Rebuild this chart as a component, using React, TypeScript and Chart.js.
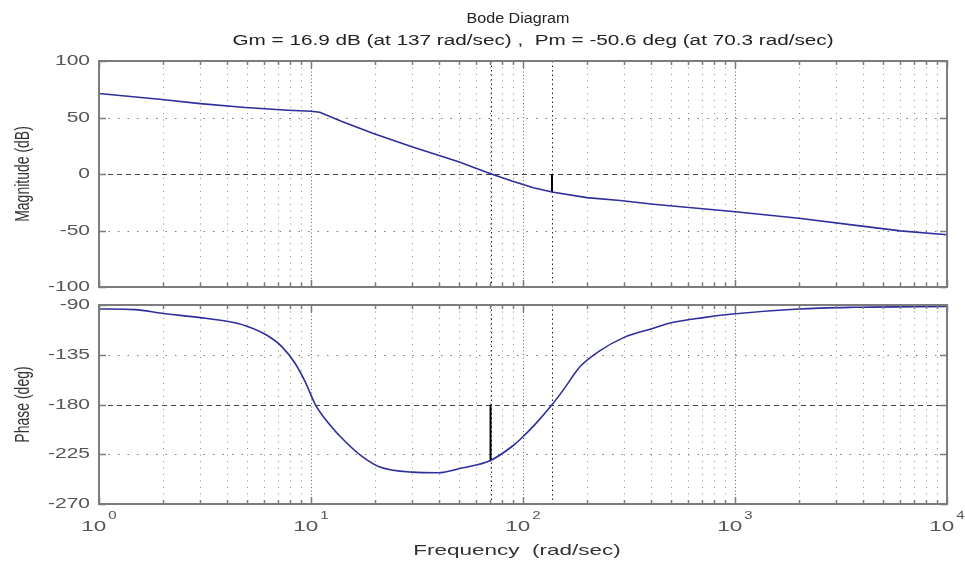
import React, { useEffect, useRef } from "react";
import { Chart, registerables } from "chart.js";

Chart.register(...registerables);

// ---- data ----
const magFreq = [1, 1.98, 3.0, 4.9, 7.8, 10, 11, 13.9, 19.7, 29.9, 49.7, 70.3, 88.7, 112, 137, 200, 287, 412, 977, 2000, 3890, 6030, 10000];
const magDb = [71.2, 65.9, 62.3, 58.8, 56.4, 55.5, 54.6, 46.7, 35.9, 24.1, 10.8, 0.3, -6.2, -12.1, -16, -20.9, -23.5, -26.7, -33.2, -39.1, -45.9, -50.3, -53.8];

const phaseFreq = [1, 1.48, 1.98, 3.0, 4.07, 4.9, 6.08, 7.28, 8.41, 9.38, 10.5, 12.1, 14.5, 17.4, 20.8, 29.9, 39.8, 51.3, 70.3, 88.7, 97.7, 114, 137, 155, 186, 227, 298, 412, 490, 708, 977, 2000, 3630, 10000];
const phaseDeg = [-93.6, -94.2, -97.5, -101.4, -105, -108.7, -116.5, -127.6, -142.7, -159.3, -180.3, -196.9, -213.5, -227, -236, -241.2, -241.8, -237.5, -230.6, -218, -211, -198, -180.3, -166.8, -145.7, -132.2, -119.5, -111, -106.5, -101.4, -98.1, -93.6, -92.1, -91.2];

const magTicks = [100, 50, 0, -50, -100];
const phaseTicks = [-90, -135, -180, -225, -270];
const decadeExponents = [0, 1, 2, 3, 4];

const gmFreq = 137;
const gmDb = -16;
const pmFreq = 70.3;
const pmDeg = -230.6;

const titleLine1 = "Bode Diagram";
const titleLine2 = "Gm = 16.9 dB (at 137 rad/sec) ,  Pm = -50.6 deg (at 70.3 rad/sec)";
const magLabel = "Magnitude (dB)";
const phaseLabel = "Phase (deg)";
const freqLabel = "Frequency  (rad/sec)";

const FONT = "'Liberation Sans', Arial, Helvetica, sans-serif";
const CURVE = "#2e2e9c";

function sText(ctx: CanvasRenderingContext2D, text: string, x: number, y: number, size: number, sx: number, align: string, color: string) {
  ctx.save();
  ctx.font = `${size}px ${FONT}`;
  ctx.fillStyle = color;
  ctx.textBaseline = "middle";
  ctx.textAlign = "left";
  const w = ctx.measureText(text).width * sx;
  const left = align === "right" ? x - w : align === "center" ? x - w / 2 : x;
  ctx.translate(left, y);
  ctx.scale(sx, 1);
  ctx.fillText(text, 0, 0);
  ctx.restore();
  return w;
}

function vText(ctx: CanvasRenderingContext2D, text: string, x: number, y: number, size: number, sy: number, color: string) {
  ctx.save();
  ctx.font = `${size}px ${FONT}`;
  ctx.fillStyle = color;
  ctx.textBaseline = "middle";
  ctx.textAlign = "center";
  ctx.translate(x, y);
  ctx.scale(sy, 1);
  ctx.rotate(-Math.PI / 2);
  ctx.fillText(text, 0, 0);
  ctx.restore();
}

function minorFreqs(): number[] {
  const out: number[] = [];
  for (let d = 0; d < 4; d++) {
    for (let k = 1; k <= 9; k++) out.push(k * Math.pow(10, d));
  }
  out.push(10000);
  return out;
}

function makePlugin(opts: { ticks: number[]; special: number; yLabel: string; top: boolean }) {
  return {
    id: "bodeFrame",
    beforeDatasetsDraw(chart: any) {
      const ctx: CanvasRenderingContext2D = chart.ctx;
      const { left, right, top, bottom } = chart.chartArea;
      const xs = chart.scales.x;
      const ys = chart.scales.y;
      ctx.save();
      ctx.lineWidth = 1;
      for (const f of minorFreqs()) {
        const px = Math.round(xs.getPixelForValue(f)) + 0.5;
        if (px <= left + 1 || px >= right - 1) continue;
        const decade = Math.abs(Math.log10(f) - Math.round(Math.log10(f))) < 1e-9;
        ctx.strokeStyle = decade ? "#666" : "#8a8a8a";
        ctx.setLineDash(decade ? [1, 2.5] : [1, 5.5]);
        ctx.beginPath();
        ctx.moveTo(px, top);
        ctx.lineTo(px, bottom);
        ctx.stroke();
      }
      for (const v of opts.ticks) {
        const py = Math.round(ys.getPixelForValue(v)) + 0.5;
        if (py <= top + 1 || py >= bottom - 1) continue;
        if (v === opts.special) {
          ctx.strokeStyle = "#444";
          ctx.setLineDash([5, 4]);
        } else {
          ctx.strokeStyle = "#7a7a7a";
          ctx.setLineDash([1.5, 8]);
        }
        ctx.beginPath();
        ctx.moveTo(left, py);
        ctx.lineTo(right, py);
        ctx.stroke();
      }
      ctx.strokeStyle = "#222";
      ctx.setLineDash([1.5, 3]);
      for (const f of [gmFreq, pmFreq]) {
        const px = Math.round(xs.getPixelForValue(f)) + 0.5;
        ctx.beginPath();
        ctx.moveTo(px, top);
        ctx.lineTo(px, bottom);
        ctx.stroke();
      }
      ctx.restore();
    },
    afterDraw(chart: any) {
      const ctx: CanvasRenderingContext2D = chart.ctx;
      const { left, right, top, bottom } = chart.chartArea;
      const xs = chart.scales.x;
      const ys = chart.scales.y;
      ctx.save();
      ctx.setLineDash([]);
      ctx.strokeStyle = "#7c7c7c";
      ctx.lineWidth = 1.5;
      for (const f of minorFreqs()) {
        const px = Math.round(xs.getPixelForValue(f)) + 0.5;
        const decade = Math.abs(Math.log10(f) - Math.round(Math.log10(f))) < 1e-9;
        const len = decade ? 7 : 4;
        ctx.beginPath();
        ctx.moveTo(px, bottom);
        ctx.lineTo(px, bottom - len);
        ctx.moveTo(px, top);
        ctx.lineTo(px, top + len);
        ctx.stroke();
      }
      for (const v of opts.ticks) {
        const py = Math.round(ys.getPixelForValue(v)) + 0.5;
        ctx.beginPath();
        ctx.moveTo(left, py);
        ctx.lineTo(left + 7, py);
        ctx.moveTo(right, py);
        ctx.lineTo(right - 7, py);
        ctx.stroke();
        sText(ctx, String(v), 90, py, 14, 1.5, "right", "#555");
      }
      ctx.lineWidth = 2;
      ctx.strokeRect(left, top, right - left, bottom - top);
      ctx.restore();

      vText(ctx, opts.yLabel, 24, (top + bottom) / 2, 14, 1.4, "#333");

      if (opts.top) {
        sText(ctx, titleLine1, 518, 19, 14, 1.15, "center", "#222");
        sText(ctx, titleLine2, 533, 41, 14, 1.48, "center", "#222");
      } else {
        for (const e of decadeExponents) {
          const px = xs.getPixelForValue(Math.pow(10, e));
          ctx.save();
          ctx.font = `15px ${FONT}`;
          const wBase = ctx.measureText("10").width * 1.5;
          ctx.font = `10px ${FONT}`;
          const wExp = ctx.measureText(String(e)).width * 1.5;
          ctx.restore();
          const total = wBase + 2 + wExp;
          const x0 = px - total / 2;
          sText(ctx, "10", x0, 527, 15, 1.5, "left", "#555");
          sText(ctx, String(e), x0 + wBase + 2, 516, 10, 1.5, "left", "#555");
        }
        sText(ctx, freqLabel, (left + right) / 2 - 6, 551, 15, 1.5, "center", "#333");
      }
    },
  };
}

function makeConfig(kind: "mag" | "phase") {
  const isMag = kind === "mag";
  const xsF = isMag ? magFreq : phaseFreq;
  const ysV = isMag ? magDb : phaseDeg;
  const marker = isMag
    ? [{ x: gmFreq, y: 0 }, { x: gmFreq, y: gmDb }]
    : [{ x: pmFreq, y: -180 }, { x: pmFreq, y: pmDeg }];
  return {
    type: "line" as const,
    data: {
      datasets: [
        {
          data: xsF.map((f, i) => ({ x: f, y: ysV[i] })),
          borderColor: CURVE,
          borderWidth: 1.6,
          pointRadius: 0,
          cubicInterpolationMode: isMag ? "default" : "monotone",
          tension: isMag ? 0 : 0.4,
          fill: false,
        },
        {
          data: marker,
          borderColor: "#000",
          borderWidth: 2,
          pointRadius: 0,
          fill: false,
        },
      ],
    },
    options: {
      animation: false,
      responsive: false,
      events: [],
      layout: {
        padding: isMag
          ? { left: 99, right: 18, top: 61, bottom: 274 }
          : { left: 99, right: 18, top: 305, bottom: 57 },
      },
      plugins: { legend: { display: false }, tooltip: { enabled: false }, title: { display: false } },
      scales: {
        x: { type: "logarithmic", min: 1, max: 10000, display: false },
        y: isMag
          ? { type: "linear", min: -100, max: 100, display: false }
          : { type: "linear", min: -270, max: -90, display: false },
      },
    },
    plugins: [
      makePlugin({
        ticks: isMag ? magTicks : phaseTicks,
        special: isMag ? 0 : -180,
        yLabel: isMag ? magLabel : phaseLabel,
        top: isMag,
      }),
    ],
  };
}

export default function App() {
  const magRef = useRef<HTMLCanvasElement | null>(null);
  const phRef = useRef<HTMLCanvasElement | null>(null);

  useEffect(() => {
    document.body.style.margin = "0";
    document.body.style.background = "#fff";
    const c1 = new Chart(magRef.current as HTMLCanvasElement, makeConfig("mag") as any);
    const c2 = new Chart(phRef.current as HTMLCanvasElement, makeConfig("phase") as any);
    return () => {
      c1.destroy();
      c2.destroy();
    };
  }, []);

  const cs: React.CSSProperties = { position: "absolute", left: 0, top: 0, width: 965, height: 561 };
  return (
    <div style={{ position: "relative", width: 965, height: 561, background: "#fff" }}>
      <canvas ref={magRef} width={965} height={561} style={cs} />
      <canvas ref={phRef} width={965} height={561} style={cs} />
    </div>
  );
}
